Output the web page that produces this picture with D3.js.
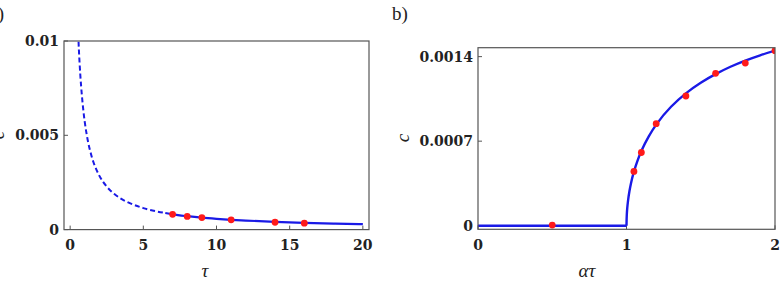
<!doctype html>
<html>
<head>
<meta charset="UTF-8">
<script src="https://d3js.org/d3.v7.min.js"></script>
<style>
  body { margin: 0; background: #fff; }
</style>
</head>
<body>
<svg id="chart" width="780" height="284"></svg>
<script>

// panel a) : c versus tau, theory curve (dashed part then solid part) and simulation points
var tauDashed = [0.55, 0.6, 0.7, 0.8, 0.9, 1.0, 1.2, 1.4, 1.6, 1.8, 2.0, 2.5, 3.0, 3.5, 4.0, 5.0, 6.0, 6.5];
var cDashed   = [0.0104, 0.0095, 0.00814, 0.00713, 0.00633, 0.0057, 0.00475, 0.00407, 0.00356, 0.00317, 0.00285, 0.00228, 0.0019, 0.00163, 0.00143, 0.00114, 0.00095, 0.00088];
var tauSolid  = [6.5, 7, 8, 9, 10, 11, 12, 14, 16, 18, 20];
var cSolid    = [0.00088, 0.00081, 0.00071, 0.00063, 0.00057, 0.00052, 0.00048, 0.00041, 0.00036, 0.00032, 0.00029];
var tauPoints = [7, 8, 9, 11, 14, 16];
var cPoints   = [0.00081, 0.00070, 0.00064, 0.00052, 0.00039, 0.00034];
var aXTicks = [0, 5, 10, 15, 20];
var aYTicks = [0, 0.005, 0.01];
var aYLabels = ["0", "0.005", "0.01"];

// panel b) : c versus alpha*tau
var atZero  = [0, 1];
var cZero   = [0, 0];
var atCurve = [1.0, 1.002, 1.005, 1.01, 1.02, 1.03, 1.05, 1.075, 1.1, 1.15, 1.2, 1.3, 1.4, 1.5, 1.6, 1.7, 1.8, 1.9, 2.0];
var cCurve  = [0, 0.000092, 0.000145, 0.000204, 0.000287, 0.00035, 0.000447, 0.000541, 0.000618, 0.00074, 0.000837, 0.000985, 0.001096, 0.001184, 0.001255, 0.001316, 0.001367, 0.001411, 0.00145];
var atPoints = [0.5, 1.05, 1.1, 1.2, 1.4, 1.6, 1.8, 2.0];
var cPointsB = [0.000005, 0.000449, 0.000606, 0.000845, 0.001074, 0.001262, 0.001347, 0.001449];
var bXTicks = [0, 1, 2];
var bYTicks = [0, 0.0007, 0.0014];
var bYLabels = ["0", "0.0007", "0.0014"];

var blue = "#1a1ae6", red = "#ff1a1a", frameColor = "#555";
var serif = "'DejaVu Serif', 'Liberation Serif', serif";

var svg = d3.select("#chart");

function zip(xs, ys) { return xs.map(function (x, i) { return [x, ys[i]]; }); }

function tickText(sel) {
  sel.attr("font-family", serif).attr("font-size", 14).attr("font-weight", "bold").attr("fill", "#222");
}
function titleText(sel, size) {
  sel.attr("font-family", "'Liberation Serif', serif").attr("font-size", size || 19)
    .attr("font-style", "italic").attr("fill", "#222");
}

function panel(id, x, y, xTicks, xLabels, yTicks, yLabels) {
  var g = svg.append("g");
  var x0 = x.range()[0], x1 = x.range()[1], y0 = y.range()[0], y1 = y.range()[1];

  g.append("clipPath").attr("id", id)
    .append("rect").attr("x", x0).attr("y", y1).attr("width", x1 - x0).attr("height", y0 - y1);

  // ticks (inside the frame)
  g.selectAll(".xt").data(xTicks).enter().append("line")
    .attr("x1", function (d) { return x(d); }).attr("x2", function (d) { return x(d); })
    .attr("y1", y0).attr("y2", y0 - 4)
    .attr("stroke", frameColor).attr("stroke-width", 1);
  g.selectAll(".yt").data(yTicks).enter().append("line")
    .attr("x1", x0).attr("x2", x0 + 4)
    .attr("y1", function (d) { return y(d); }).attr("y2", function (d) { return y(d); })
    .attr("stroke", frameColor).attr("stroke-width", 1);

  // tick labels
  g.selectAll(".xl").data(xTicks).enter().append("text")
    .call(tickText)
    .attr("x", function (d) { return x(d); }).attr("y", 249.5)
    .attr("text-anchor", "middle")
    .text(function (d, i) { return xLabels[i]; });
  g.selectAll(".yl").data(yTicks).enter().append("text")
    .call(tickText)
    .attr("x", x0 - 5).attr("y", function (d) { return y(d); })
    .attr("dy", "0.36em")
    .attr("text-anchor", "end")
    .text(function (d, i) { return yLabels[i]; });

  return g;
}

// ---------- panel a ----------
var xa = d3.scaleLinear().domain([-0.42, 20.42]).range([64, 369]);
var ya = d3.scaleLinear().domain([0, 0.01]).range([229.6, 41]);
var ga = panel("clipA", xa, ya, aXTicks, aXTicks.map(String), aYTicks, aYLabels);

var lineA = d3.line().x(function (d) { return xa(d[0]); }).y(function (d) { return ya(d[1]); })
  .curve(d3.curveMonotoneX);

var plotA = ga.append("g").attr("clip-path", "url(#clipA)");
plotA.append("path").datum(zip(tauDashed, cDashed))
  .attr("d", lineA).attr("fill", "none").attr("stroke", blue)
  .attr("stroke-width", 2).attr("stroke-dasharray", "5,3");
plotA.append("path").datum(zip(tauSolid, cSolid))
  .attr("d", lineA).attr("fill", "none").attr("stroke", blue).attr("stroke-width", 2.2);
plotA.selectAll("circle").data(zip(tauPoints, cPoints)).enter().append("circle")
  .attr("cx", function (d) { return xa(d[0]); }).attr("cy", function (d) { return ya(d[1]); })
  .attr("r", 3.4).attr("fill", red);

ga.append("rect").attr("x", 64).attr("y", 41).attr("width", 305).attr("height", 188.6)
  .attr("fill", "none").attr("stroke", frameColor).attr("stroke-width", 1.2);

ga.append("text").call(titleText).attr("x", 205).attr("y", 277)
  .attr("text-anchor", "middle").text("τ");
ga.append("text").call(titleText)
  .attr("transform", "translate(4,135) rotate(-90)")
  .attr("text-anchor", "middle").text("c");
ga.append("text").attr("x", 4).attr("y", 20).attr("text-anchor", "end")
  .attr("font-family", "'Liberation Serif', serif").attr("font-size", 19).attr("fill", "#222")
  .text("a)");

// ---------- panel b ----------
var xb = d3.scaleLinear().domain([0, 2]).range([478, 775]);
var yb = d3.scaleLinear().domain([-0.00003, 0.001474]).range([229.3, 47.7]);
var gb = panel("clipB", xb, yb, bXTicks, bXTicks.map(String), bYTicks, bYLabels);

var lineB = d3.line().x(function (d) { return xb(d[0]); }).y(function (d) { return yb(d[1]); });

var plotB = gb.append("g").attr("clip-path", "url(#clipB)");
plotB.append("path").datum(zip(atZero, cZero))
  .attr("d", lineB).attr("fill", "none").attr("stroke", blue).attr("stroke-width", 2.4);
plotB.append("path").datum(zip(atCurve, cCurve))
  .attr("d", lineB.curve(d3.curveMonotoneY)).attr("fill", "none").attr("stroke", blue).attr("stroke-width", 2.4);
plotB.selectAll("circle").data(zip(atPoints, cPointsB)).enter().append("circle")
  .attr("cx", function (d) { return xb(d[0]); }).attr("cy", function (d) { return yb(d[1]); })
  .attr("r", 3.4).attr("fill", red);

gb.append("rect").attr("x", 478).attr("y", 47.7).attr("width", 297).attr("height", 181.6)
  .attr("fill", "none").attr("stroke", frameColor).attr("stroke-width", 1.2);

gb.append("text").call(titleText).attr("x", 587).attr("y", 277)
  .attr("text-anchor", "middle").text("ατ");
gb.append("text").call(titleText)
  .attr("transform", "translate(409,138) rotate(-90)")
  .attr("text-anchor", "middle").text("c");
gb.append("text").attr("x", 392).attr("y", 20)
  .attr("font-family", "'Liberation Serif', serif").attr("font-size", 19).attr("fill", "#222")
  .text("b)");

</script>
</body>
</html>
